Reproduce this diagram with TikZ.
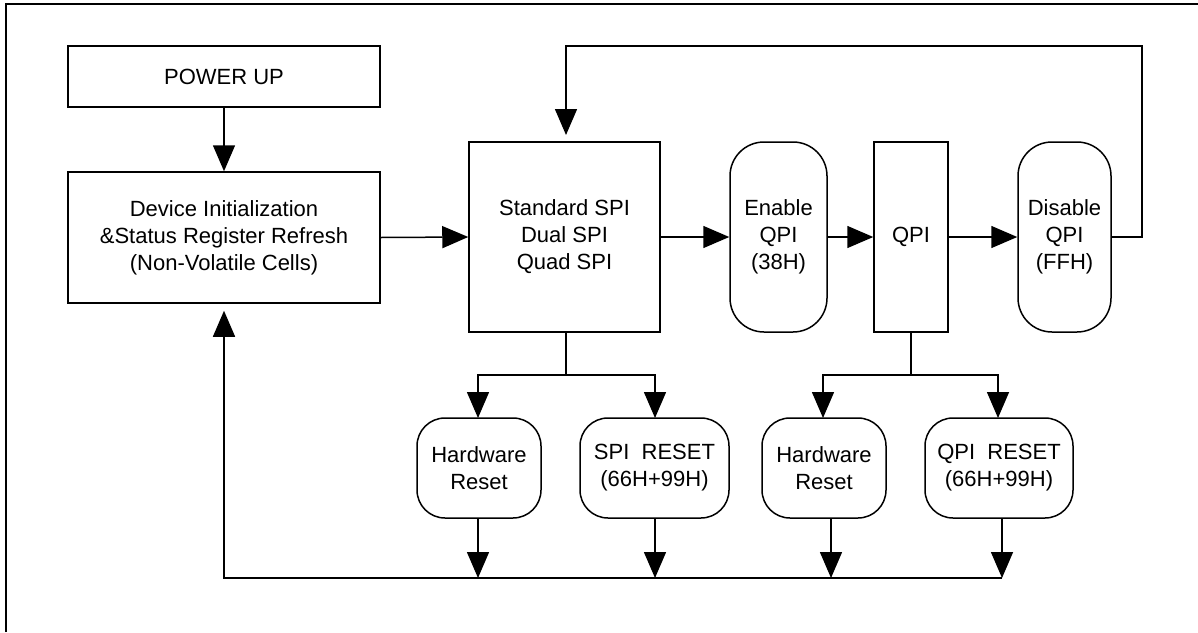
\documentclass[tikz,border=0pt]{standalone}
\usepackage{fontspec}
\setmainfont{Liberation Sans}
\usetikzlibrary{arrows.meta,calc}
\begin{document}
\begin{tikzpicture}[x=1pt,y=-1pt,line width=1.5pt,
  box/.style={draw, line width=1.5pt, align=center, inner sep=0pt, font=\fontsize{22}{27}\selectfont},
  rbox/.style={box, rounded corners=#1},
  arr/.style={-{Triangle[length=26pt,width=22pt]}}]
\useasboundingbox (0,0) rectangle (1198,632);
% outer frame
\draw[line width=1.4pt] (6,632) -- (6,4) -- (1198,4);
% nodes
\node[box, minimum width=312pt, minimum height=61pt] (pu) at (224,76.5) {POWER UP};
\node[box, minimum width=312pt, minimum height=131pt] (dev) at (224,237.5) {Device Initialization\\\&Status Register Refresh\\(Non-Volatile Cells)};
\node[box, minimum width=191pt, minimum height=190pt] (spi) at (564.5,237) {Standard SPI\\Dual SPI\\Quad SPI};
\node[rbox=34pt, minimum width=97pt, minimum height=190pt] (en) at (778.5,237) {Enable\\QPI\\(38H)};
\node[box, minimum width=74pt, minimum height=190pt] (qpi) at (911,237) {QPI};
\node[rbox=34pt, minimum width=93pt, minimum height=190pt] (dis) at (1064.5,237) {Disable\\QPI\\(FFH)};
\node[rbox=28pt, minimum width=124pt, minimum height=100pt] (hr1) at (479,468) {Hardware\\Reset};
\node[rbox=28pt, minimum width=149pt, minimum height=100pt] (sr) at (654.5,468) {SPI~~RESET\\(66H+99H)};
\node[rbox=28pt, minimum width=124pt, minimum height=100pt] (hr2) at (824,468) {Hardware\\Reset};
\node[rbox=28pt, minimum width=148pt, minimum height=100pt] (qr) at (999,468) {QPI~~RESET\\(66H+99H)};
% helper coordinates
\coordinate (tr) at (1142,46);
\coordinate (b1) at (566,375);
\coordinate (b2) at (911,375);
\coordinate (bl) at (224,578);
\coordinate (h1t) at (478,418);
\coordinate (s1t) at (655,418);
\coordinate (h2t) at (823,418);
\coordinate (q2t) at (998,418);
\coordinate (h1b) at (478,518);
\coordinate (s1b) at (655,518);
\coordinate (h2b) at (831,518);
\coordinate (q2b) at (1002,518);
\coordinate (h1e) at (478,578);
\coordinate (s1e) at (655,578);
\coordinate (h2e) at (831,578);
\coordinate (q2e) at (1002,578);
\coordinate (st) at (566,142);
\coordinate (sb) at (566,332);
% main flow
\draw[arr] (pu.south) -- (dev.north);
\draw[arr] (dev.east) -- (spi.west);
\draw[arr] (spi.east) -- (en.west);
\draw[arr] (en.east) -- (qpi.west);
\draw[arr] (qpi.east) -- (dis.west);
\draw[arr, shorten >=7pt] (dis.east) -| (tr) -| (st);
% branches
\draw (sb) -- (b1);
\draw[arr] (b1) -| (h1t);
\draw[arr] (b1) -| (s1t);
\draw (qpi.south) -- (b2);
\draw[arr] (b2) -| (h2t);
\draw[arr] (b2) -| (q2t);
% returns
\draw[arr] (h1b) -- (h1e);
\draw[arr] (s1b) -- (s1e);
\draw[arr] (h2b) -- (h2e);
\draw[arr] (q2b) -- (q2e);
\draw[arr, shorten >=7pt] (q2e) -- (bl) -- (dev.south);
\end{tikzpicture}
\end{document}
